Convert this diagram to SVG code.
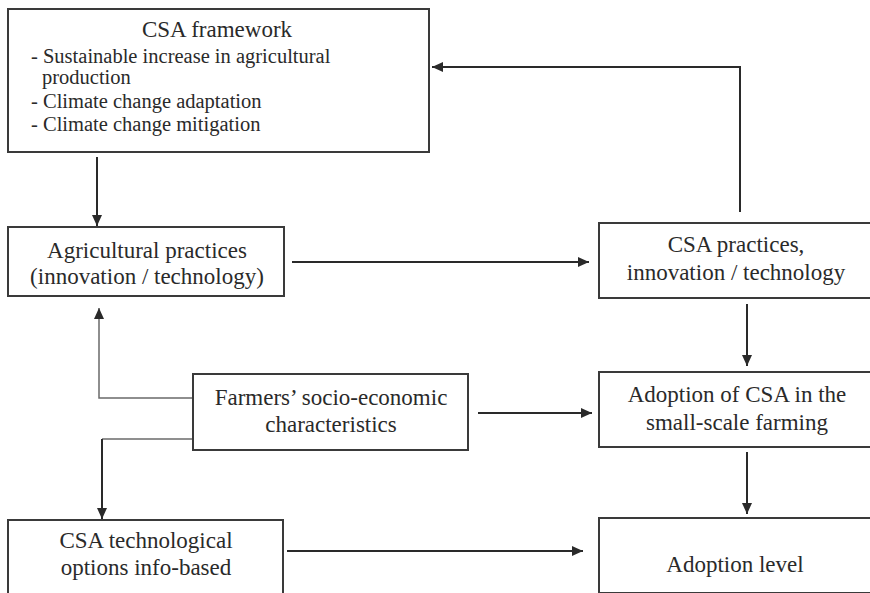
<svg xmlns="http://www.w3.org/2000/svg" width="870" height="593" viewBox="0 0 870 593">
  <style>
    .box { fill: #fff; stroke: #3a3a3a; stroke-width: 2; }
    .lbl { font-family: "Liberation Serif", "Times New Roman", serif; font-size: 23px; fill: #2a2a2a; text-anchor: middle; }
    .title { font-family: "Liberation Serif", "Times New Roman", serif; font-size: 23px; fill: #2a2a2a; text-anchor: middle; }
    .item { font-family: "Liberation Serif", "Times New Roman", serif; font-size: 20.5px; fill: #2a2a2a; }
    .conn { fill: none; stroke: #2a2a2a; stroke-width: 2; }
    .thin { fill: none; stroke: #6a6a6a; stroke-width: 1.5; }
  </style>
  <defs>
    <marker id="arrow" markerUnits="userSpaceOnUse" markerWidth="11" markerHeight="10" refX="11" refY="5" orient="auto">
      <path d="M0,0 L11,5 L0,10 z" fill="#2a2a2a"/>
    </marker>
  </defs>
  <rect width="870" height="593" fill="#fff"/>

  <g id="connectors">
    <path class="conn" d="M97,157 V226" marker-end="url(#arrow)"/>
    <path class="conn" d="M292,262 H589" marker-end="url(#arrow)"/>
    <path class="conn" d="M740,212 V67 H432" marker-end="url(#arrow)"/>
    <path class="conn" d="M747,304 V366" marker-end="url(#arrow)"/>
    <path class="conn" d="M747,452 V514" marker-end="url(#arrow)"/>
    <path class="conn" d="M478,413 H592" marker-end="url(#arrow)"/>
    <path class="conn" d="M287,551 H583" marker-end="url(#arrow)"/>
    <path class="thin" d="M193,398 H99 V308" marker-end="url(#arrow)"/>
    <path class="thin" d="M193,439 H102"/>
    <path class="conn" d="M102,439 V519" marker-end="url(#arrow)"/>
  </g>

  <g id="csa-framework">
    <rect class="box" x="8" y="9" width="421" height="143"/>
    <text class="title" x="217" y="37">CSA framework</text>
    <text class="item" x="31" y="63">- Sustainable increase in agricultural</text>
    <text class="item" x="42" y="84">production</text>
    <text class="item" x="31" y="108">- Climate change adaptation</text>
    <text class="item" x="31" y="131">- Climate change mitigation</text>
  </g>

  <g id="agricultural-practices">
    <rect class="box" x="8" y="227" width="276" height="69"/>
    <text class="lbl" x="147" y="258">Agricultural practices</text>
    <text class="lbl" x="147" y="284">(innovation / technology)</text>
  </g>

  <g id="csa-practices">
    <rect class="box" x="599" y="223" width="290" height="75"/>
    <text class="lbl" x="736" y="252">CSA practices,</text>
    <text class="lbl" x="736" y="280">innovation / technology</text>
  </g>

  <g id="farmers">
    <rect class="box" x="193" y="374" width="275" height="76"/>
    <text class="lbl" x="331" y="405">Farmers’ socio-economic</text>
    <text class="lbl" x="331" y="432">characteristics</text>
  </g>

  <g id="adoption">
    <rect class="box" x="599" y="372" width="290" height="75"/>
    <text class="lbl" x="737" y="402">Adoption of CSA in the</text>
    <text class="lbl" x="737" y="430">small-scale farming</text>
  </g>

  <g id="csa-tech-options">
    <rect class="box" x="8" y="520" width="275" height="90"/>
    <text class="lbl" x="146" y="548">CSA technological</text>
    <text class="lbl" x="146" y="575">options info-based</text>
  </g>

  <g id="adoption-level">
    <rect class="box" x="599" y="518" width="290" height="75"/>
    <text class="lbl" x="735" y="572">Adoption level</text>
  </g>
</svg>
